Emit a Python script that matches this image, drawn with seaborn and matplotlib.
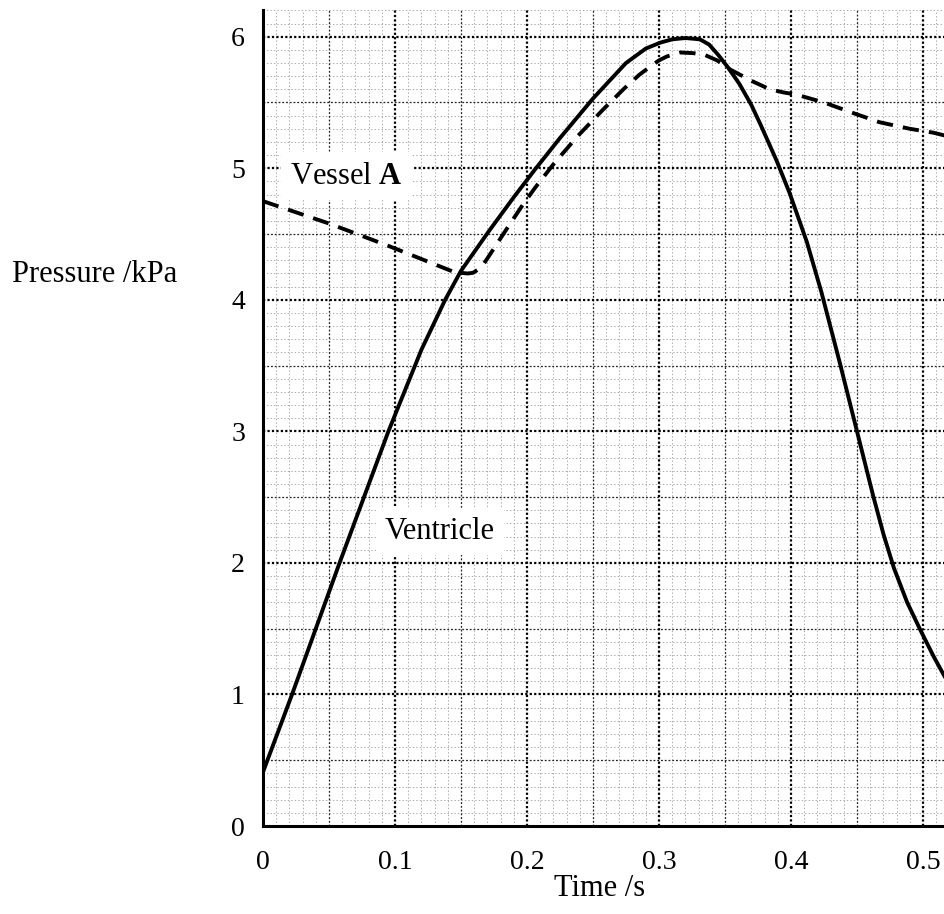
import numpy as np
import pandas as pd
import matplotlib
matplotlib.use("Agg")
import matplotlib.pyplot as plt
import seaborn as sns

# ─── Data ──────────────────────────────────────────────────────────────────────

ventricle_time = [0.0, 0.022, 0.058, 0.095, 0.12, 0.138, 0.15, 0.171, 0.19, 0.206,
                  0.225, 0.25, 0.275, 0.29, 0.301, 0.31, 0.32, 0.331, 0.338, 0.345,
                  0.352, 0.361, 0.37, 0.377, 0.389, 0.399, 0.412, 0.423, 0.437, 0.45,
                  0.462, 0.47, 0.478, 0.488, 0.498, 0.508, 0.52]
ventricle_pressure = [0.41, 1.0, 2.0, 3.0, 3.62, 4.0, 4.22, 4.52, 4.78, 4.99,
                      5.23, 5.53, 5.80, 5.91, 5.955, 5.98, 5.99, 5.98, 5.94, 5.86,
                      5.77, 5.64, 5.48, 5.33, 5.06, 4.81, 4.44, 4.06, 3.52, 3.00,
                      2.52, 2.22, 1.96, 1.70, 1.49, 1.29, 1.07]

vessel_time = [0.0, 0.05, 0.095, 0.145, 0.155, 0.159, 0.163, 0.167, 0.171, 0.186,
               0.196, 0.206, 0.22, 0.238, 0.258, 0.273, 0.285, 0.293, 0.3, 0.306,
               0.316, 0.326, 0.335, 0.344, 0.354, 0.371, 0.384, 0.395, 0.404, 0.425,
               0.447, 0.467, 0.49, 0.508, 0.52]
vessel_pressure = [4.75, 4.58, 4.41, 4.21, 4.20, 4.205, 4.23, 4.27, 4.33, 4.56,
                   4.71, 4.85, 5.03, 5.24, 5.45, 5.60, 5.71, 5.77, 5.82, 5.85,
                   5.88, 5.875, 5.86, 5.82, 5.75, 5.66, 5.60, 5.575, 5.56, 5.50,
                   5.42, 5.35, 5.30, 5.27, 5.24]

x_ticks = [0, 0.1, 0.2, 0.3, 0.4, 0.5]
x_tick_labels = ["0", "0.1", "0.2", "0.3", "0.4", "0.5"]
y_ticks = [0, 1, 2, 3, 4, 5, 6]
y_tick_labels = ["0", "1", "2", "3", "4", "5", "6"]

X_MAX, Y_MAX = 0.52, 6.2

# ─── Style ─────────────────────────────────────────────────────────────────────

sns.set_style("white")
plt.rcParams["font.family"] = ["Liberation Serif", "DejaVu Serif"]
plt.rcParams["mathtext.fontset"] = "custom"
plt.rcParams["mathtext.rm"] = "Liberation Serif"
plt.rcParams["mathtext.bf"] = "Liberation Serif:bold"
plt.rcParams["text.color"] = "black"
plt.rcParams["xtick.color"] = "black"
plt.rcParams["ytick.color"] = "black"
TICK_FS = 20
TEXT_FS = 22

fig = plt.figure(figsize=(9.45, 9.14), dpi=100)
ax = fig.add_axes([263 / 945, 88 / 914, X_MAX * 1320 / 945, Y_MAX * 131.55 / 914])
ax.set_xlim(0, X_MAX)
ax.set_ylim(0, Y_MAX)

# graph-paper grid: 0.01 s / 0.1 kPa, heavier every 5 and 10 squares
xs = np.round(np.arange(1, 53) * 0.01, 2)
ys = np.round(np.arange(1, 63) * 0.1, 1)
x_major = [x for x in xs if round(x * 100) % 10 == 0]
x_mid = [x for x in xs if round(x * 100) % 10 == 5]
x_minor = [x for x in xs if round(x * 100) % 5 != 0]
y_major = [y for y in ys if round(y * 10) % 10 == 0]
y_mid = [y for y in ys if round(y * 10) % 10 == 5]
y_minor = [y for y in ys if round(y * 10) % 5 != 0]

minor_kw = dict(colors="#8a8a8a", linewidth=0.5, linestyles=(0, (2, 3)), zorder=0)
mid_kw = dict(colors="#222222", linewidth=0.9, linestyles=(0, (1.5, 1.5)), zorder=0)
major_kw = dict(colors="black", linewidth=1.6, linestyles=(0, (1, 1)), zorder=0)
ax.vlines(x_minor, 0, Y_MAX, **minor_kw)
ax.hlines(y_minor, 0, X_MAX, **minor_kw)
ax.vlines(x_mid, 0, Y_MAX, **mid_kw)
ax.hlines(y_mid, 0, X_MAX, **mid_kw)
ax.vlines(x_major, 0, Y_MAX, **major_kw)
ax.hlines(y_major, 0, X_MAX, **major_kw)

# ─── Curves ────────────────────────────────────────────────────────────────────

ventricle = pd.DataFrame({"time": ventricle_time, "pressure": ventricle_pressure})
vessel = pd.DataFrame({"time": vessel_time, "pressure": vessel_pressure})

sns.lineplot(data=ventricle, x="time", y="pressure", ax=ax, color="black",
             linewidth=2.8, zorder=3)
sns.lineplot(data=vessel, x="time", y="pressure", ax=ax, color="black",
             linewidth=2.8, linestyle=(0, (4.2, 2.6)), zorder=3)

# ─── Labels & axes ─────────────────────────────────────────────────────────────

box = dict(boxstyle="square,pad=0.3", facecolor="white", edgecolor="none")
ax.text(0.063, 4.94, r"Vessel $\mathbf{A}$", fontsize=TEXT_FS, ha="center", va="center",
        bbox=box, zorder=4)
ax.text(0.134, 2.24, "Ventricle", fontsize=TEXT_FS, ha="center", va="center",
        bbox=box, zorder=4)

ax.set_xticks(x_ticks)
ax.set_xticklabels(x_tick_labels)
ax.set_yticks(y_ticks)
ax.set_yticklabels(y_tick_labels)
ax.set_xlabel("")
ax.set_ylabel("")
ax.tick_params(axis="x", direction="out", length=8, width=1.2, labelsize=TICK_FS, pad=9)
ax.tick_params(axis="y", direction="out", length=8, width=1.6, labelsize=TICK_FS, pad=5)

for side in ["top", "right"]:
    ax.spines[side].set_visible(False)
for side in ["left", "bottom"]:
    ax.spines[side].set_linewidth(2.2)
    ax.spines[side].set_color("black")

fig.text(12 / 945, 1 - 275 / 914, "Pressure /kPa", fontsize=TEXT_FS, ha="left", va="center")
fig.text(600 / 945, 1 - 888 / 914, "Time /s", fontsize=TEXT_FS, ha="center", va="center")

fig.savefig("out.png", dpi=100)
